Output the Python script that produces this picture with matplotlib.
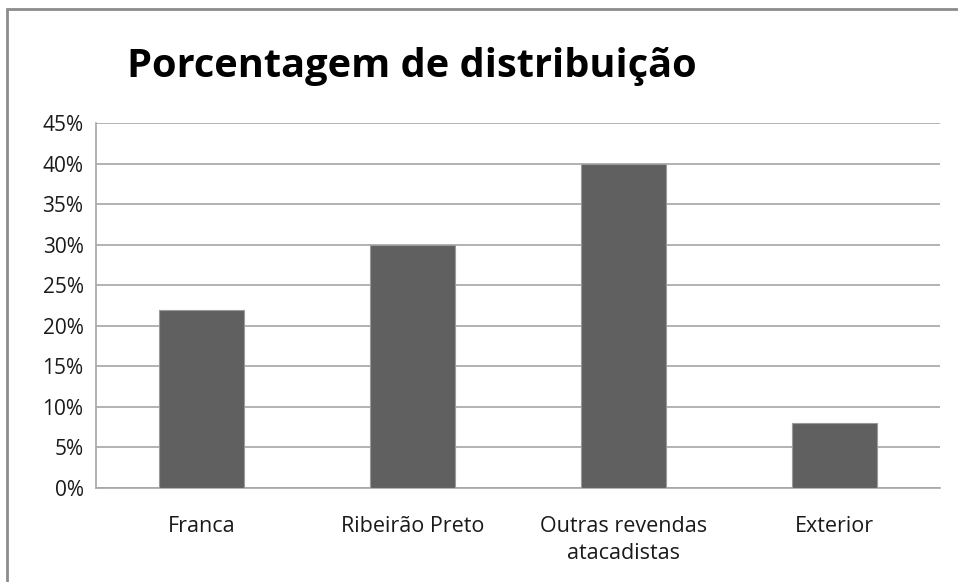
import matplotlib
matplotlib.use("Agg")
import matplotlib.pyplot as plt
from matplotlib.patches import Rectangle
from matplotlib.ticker import MultipleLocator, FuncFormatter

categories = ["Franca", "Ribeirão Preto", "Outras revendas\natacadistas", "Exterior"]
values = [0.22, 0.30, 0.40, 0.08]
title = "Porcentagem de distribuição"

plt.rcParams['font.family'] = ['Open Sans', 'DejaVu Sans']

W, H = 958, 582
fig = plt.figure(figsize=(W / 100, H / 100), dpi=100)
fig.patch.set_facecolor("white")

# outer frame
fig.patches.append(Rectangle((7 / W, -0.1), 1.2, 1 - 9 / H + 0.1, transform=fig.transFigure,
                             fill=False, edgecolor="#8c8c8c", linewidth=2))

ax = fig.add_axes([96 / W, 1 - 488 / H, (940 - 96) / W, (488 - 123) / H])
x = range(len(categories))
ax.bar(x, values, width=0.4, color="#606060", edgecolor="#9a9a9a", linewidth=0.8, zorder=3)
ax.set_xlim(-0.5, len(categories) - 0.5)
ax.set_ylim(0, 0.45)
ax.yaxis.set_major_locator(MultipleLocator(0.05))
ax.yaxis.set_major_formatter(FuncFormatter(lambda v, p: f"{v * 100:.0f}%"))
ax.grid(axis="y", color="#a6a6a6", linewidth=1.2, zorder=0)
ax.set_xticks(list(x))
ax.set_xticklabels(categories, fontsize=15.5, color="#1a1a1a", linespacing=1.4, va="top")
ax.tick_params(axis="x", length=0, pad=20)
ax.tick_params(axis="y", length=0, pad=9, labelsize=15, labelcolor="#1a1a1a")
for s in ["top", "right"]:
    ax.spines[s].set_visible(False)
ax.spines["left"].set_color("#a6a6a6")
ax.spines["left"].set_linewidth(1.2)
ax.spines["bottom"].set_color("#a6a6a6")
ax.spines["bottom"].set_linewidth(1.2)

fig.text(127 / W, 1 - 77 / H, title, fontsize=28.6, fontweight="bold", color="black",
         ha="left", va="baseline")

fig.savefig("out.png", dpi=100)
